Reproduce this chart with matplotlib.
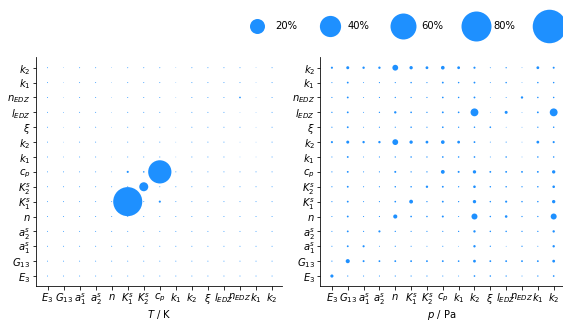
import numpy as np
import matplotlib
matplotlib.use('Agg')
import matplotlib.pyplot as plt

# parameter labels (x axis left to right, y axis bottom to top)
params = [r'$E_3$', r'$G_{13}$', r'$a_1^s$', r'$a_2^s$', r'$n$', r'$K_1^s$', r'$K_2^s$',
          r'$c_p$', r'$k_1$', r'$k_2$', r'$\xi$', r'$l_{EDZ}$', r'$n_{EDZ}$', r'$k_1$', r'$k_2$']

# sensitivity in %, rows listed top (k2) to bottom (E3), columns E3 ... k2
sens_T = [
    [0.08, 0.03, 0.08, 0.08, 0.03, 0.08, 0.08, 0.08, 0.03, 0.08, 0.08, 0.08, 0.08, 0.03, 0.08],
    [0.08, 0.03, 0.08, 0.08, 0.03, 0.08, 0.08, 0.08, 0.03, 0.08, 0.08, 0.08, 0.08, 0.03, 0.08],
    [0.08, 0.03, 0.08, 0.08, 0.03, 0.08, 0.08, 0.08, 0.03, 0.08, 0.08, 0.08, 0.25, 0.03, 0.08],
    [0.08, 0.05, 0.08, 0.08, 0.03, 0.08, 0.08, 0.08, 0.03, 0.08, 0.08, 0.08, 0.03, 0.03, 0.08],
    [0.08, 0.03, 0.08, 0.08, 0.03, 0.08, 0.08, 0.08, 0.03, 0.08, 0.08, 0.08, 0.08, 0.03, 0.08],
    [0.08, 0.03, 0.08, 0.08, 0.03, 0.08, 0.08, 0.08, 0.03, 0.08, 0.08, 0.08, 0.03, 0.03, 0.08],
    [0.08, 0.05, 0.08, 0.08, 0.03, 0.08, 0.08, 0.08, 0.03, 0.08, 0.08, 0.08, 0.03, 0.03, 0.08],
    [0.08, 0.08, 0.08, 0.08, 0.05, 0.4, 0.2, 48.0, 0.08, 0.08, 0.08, 0.08, 0.08, 0.08, 0.08],
    [0.08, 0.08, 0.08, 0.08, 0.08, 0.08, 7.2, 0.08, 0.08, 0.08, 0.08, 0.08, 0.08, 0.08, 0.08],
    [0.08, 0.08, 0.08, 0.08, 0.08, 75.0, 0.08, 0.4, 0.08, 0.08, 0.08, 0.08, 0.08, 0.08, 0.08],
    [0.08, 0.08, 0.08, 0.08, 0.08, 0.08, 0.08, 0.08, 0.08, 0.08, 0.08, 0.08, 0.08, 0.08, 0.08],
    [0.08, 0.08, 0.08, 0.08, 0.08, 0.08, 0.08, 0.08, 0.08, 0.08, 0.08, 0.08, 0.08, 0.08, 0.08],
    [0.08, 0.08, 0.08, 0.08, 0.08, 0.08, 0.08, 0.08, 0.08, 0.08, 0.08, 0.08, 0.08, 0.08, 0.08],
    [0.08, 0.08, 0.08, 0.08, 0.08, 0.08, 0.08, 0.08, 0.08, 0.08, 0.08, 0.08, 0.08, 0.08, 0.08],
    [0.08, 0.08, 0.08, 0.08, 0.08, 0.08, 0.08, 0.08, 0.08, 0.08, 0.08, 0.08, 0.08, 0.08, 0.08],
]

sens_p = [
    [0.4, 0.8, 0.5, 0.5, 3.0, 1.0, 0.7, 1.2, 0.7, 0.4, 0.08, 0.15, 0.05, 0.7, 0.35],
    [0.1, 0.3, 0.08, 0.12, 0.12, 0.2, 0.12, 0.3, 0.2, 0.3, 0.08, 0.2, 0.05, 0.2, 0.2],
    [0.12, 0.3, 0.08, 0.12, 0.15, 0.15, 0.12, 0.25, 0.2, 0.3, 0.05, 0.08, 0.5, 0.2, 0.2],
    [0.15, 0.3, 0.08, 0.15, 0.5, 0.25, 0.15, 0.3, 0.25, 5.5, 0.05, 0.8, 0.05, 0.3, 5.5],
    [0.12, 0.3, 0.08, 0.12, 0.12, 0.2, 0.12, 0.25, 0.15, 0.2, 0.25, 0.05, 0.05, 0.15, 0.2],
    [0.4, 0.8, 0.5, 0.5, 3.0, 1.0, 0.7, 1.2, 0.7, 0.3, 0.08, 0.1, 0.05, 0.7, 0.4],
    [0.1, 0.3, 0.08, 0.12, 0.15, 0.2, 0.15, 0.25, 0.2, 0.25, 0.08, 0.2, 0.05, 0.2, 0.2],
    [0.12, 0.3, 0.1, 0.12, 0.35, 0.15, 0.15, 1.3, 0.35, 1.0, 0.3, 0.3, 0.3, 0.3, 1.0],
    [0.12, 0.3, 0.1, 0.12, 0.2, 0.2, 0.5, 0.3, 0.15, 0.6, 0.2, 0.2, 0.15, 0.2, 0.6],
    [0.12, 0.3, 0.1, 0.12, 0.25, 1.3, 0.15, 0.3, 0.15, 1.0, 0.2, 0.4, 0.2, 0.2, 1.0],
    [0.1, 0.3, 0.1, 0.12, 1.5, 0.25, 0.2, 0.35, 0.1, 3.2, 0.2, 0.6, 0.15, 0.15, 3.2],
    [0.1, 0.3, 0.12, 0.4, 0.15, 0.12, 0.12, 0.12, 0.15, 0.5, 0.2, 0.2, 0.15, 0.15, 0.5],
    [0.1, 0.3, 0.4, 0.08, 0.12, 0.1, 0.08, 0.1, 0.05, 0.5, 0.15, 0.05, 0.15, 0.08, 0.5],
    [0.12, 1.5, 0.35, 0.3, 0.3, 0.3, 0.3, 0.3, 0.25, 0.7, 0.3, 0.3, 0.3, 0.3, 0.7],
    [0.9, 0.12, 0.1, 0.1, 0.12, 0.12, 0.12, 0.1, 0.08, 0.25, 0.2, 0.15, 0.08, 0.15, 0.25],
]

legend_pct = [20, 40, 60, 80, 100]

color = '#1E90FF'
scale = 11.25  # marker area (pt^2) per percent

fig = plt.figure(figsize=(563 / 72, 321 / 72), dpi=72)
ax1 = fig.add_axes([36 / 563, 35 / 321, 246 / 563, 229 / 321])
ax2 = fig.add_axes([320.5 / 563, 35 / 321, 243 / 563, 229 / 321])

n = len(params)
for ax, data, xlab in [(ax1, sens_T, r'$T$ / K'), (ax2, sens_p, r'$p$ / Pa')]:
    vals = np.array(data)[::-1]  # bottom row first
    yy, xx = np.meshgrid(np.arange(n), np.arange(n), indexing='ij')
    ax.scatter(xx.ravel(), yy.ravel(), s=vals.ravel() * scale, c=color, linewidths=0)
    ax.set_xticks(range(n))
    ax.set_xticklabels(params, fontsize=10)
    ax.set_yticks(range(n))
    ax.set_yticklabels(params, fontsize=10)
    ax.set_xlim(-0.72, 14.62)
    ax.set_ylim(-0.67, 14.72)
    ax.set_xlabel(xlab, fontsize=10, labelpad=1)
    ax.spines['top'].set_visible(False)
    ax.spines['right'].set_visible(False)
    ax.tick_params(length=3.5, width=0.8, pad=2)

handles = [ax1.scatter([], [], s=p * scale, c=color, linewidths=0) for p in legend_pct]
fig.legend(handles, ['%d%%' % p for p in legend_pct], loc='center left',
           bbox_to_anchor=(238 / 563, 1 - 26 / 321), ncol=5, frameon=False,
           fontsize=10, handlelength=2.0, columnspacing=2.3, handletextpad=0.8)

fig.savefig('out.png', dpi=72)
